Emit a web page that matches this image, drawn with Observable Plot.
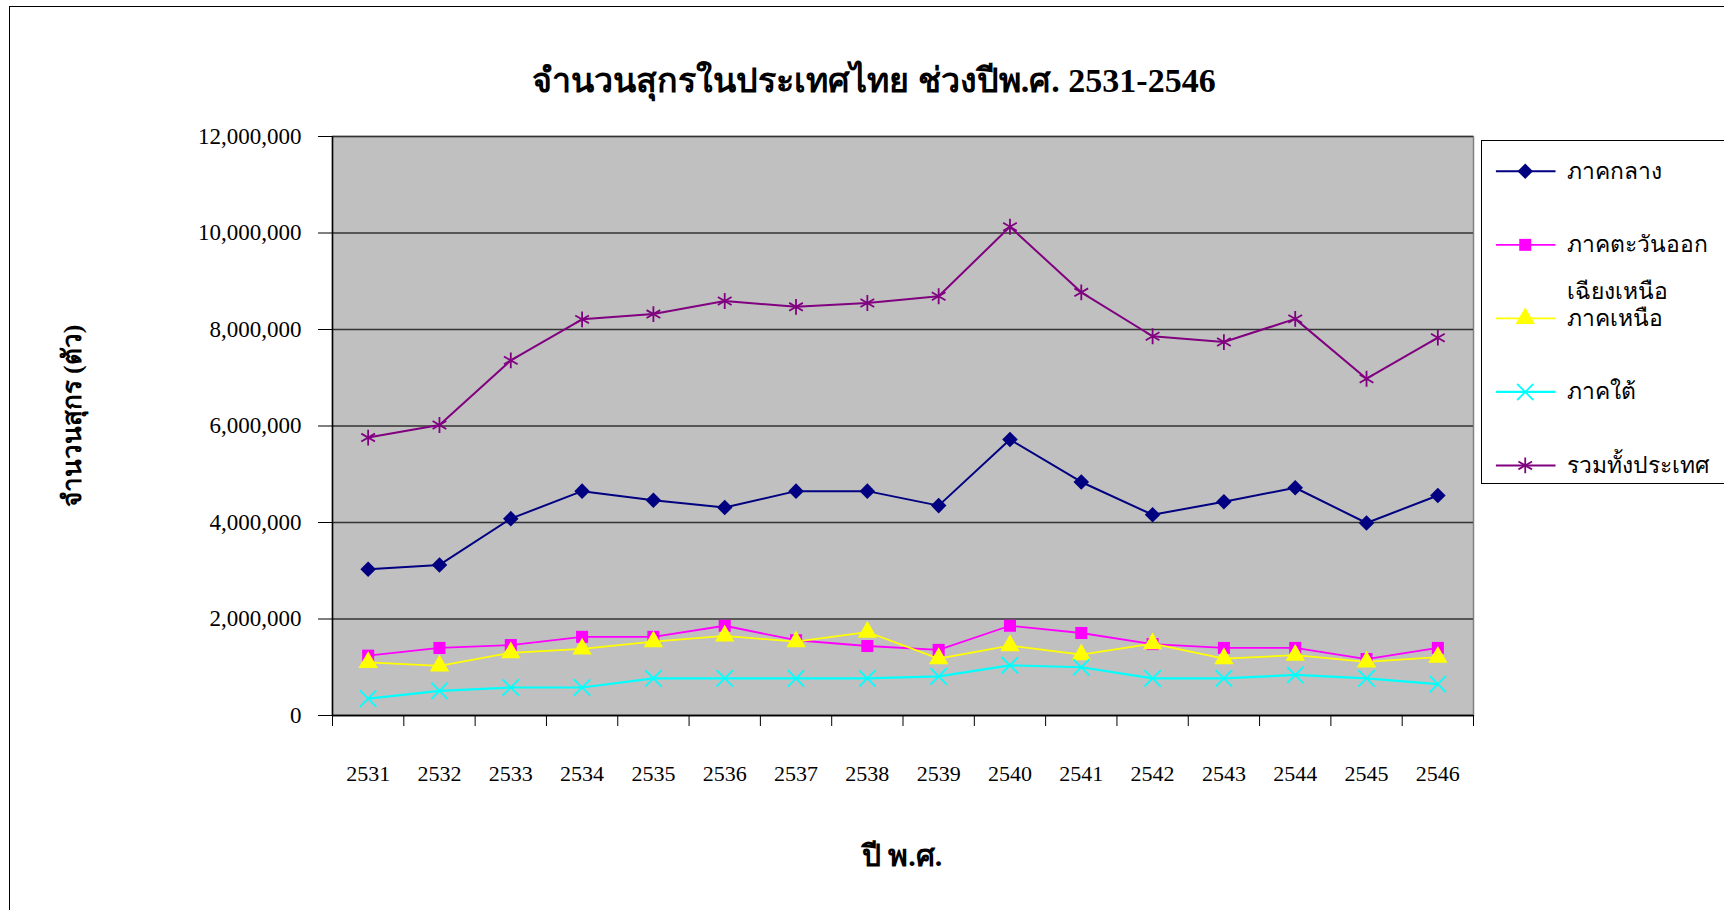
<!DOCTYPE html>
<html>
<head>
<meta charset="utf-8">
<script src="https://cdn.jsdelivr.net/npm/d3@7"></script>
<script src="https://cdn.jsdelivr.net/npm/@observablehq/plot@0.6"></script>
<style>
  html, body { margin: 0; padding: 0; background: #fff; width: 1724px; height: 910px; overflow: hidden; }
  #wrap { position: relative; width: 1724px; height: 910px; }
  #frame { position: absolute; left: 9px; top: 6px; width: 1800px; height: 1000px; border: 1px solid #000; box-sizing: border-box; }
  #chart { position: absolute; left: 0; top: 0; }
  .t { position: absolute; font-family: "Liberation Serif", "Times New Roman", serif; font-weight: bold; color: #000; white-space: nowrap; }
  #title { left: 874px; top: 80px; transform: translate(-50%, -50%); font-size: 34px; }
  #xtitle { left: 902px; top: 855px; transform: translate(-50%, -50%); font-size: 30px; }
  #ytitle { left: 71px; top: 416px; transform: translate(-50%, -50%) rotate(-90deg); font-size: 26px; }
  #legend { position: absolute; left: 1481px; top: 140px; width: 320px; height: 344px; border: 1px solid #000; box-sizing: border-box; background: #fff; }
  #legend svg { position: absolute; left: 0; top: 0; }
</style>
</head>
<body>
<div id="wrap">
  <div id="frame"></div>
  <div id="chart"></div>
  <div id="title" class="t">จำนวนสุกรในประเทศไทย ช่วงปีพ.ศ. 2531-2546</div>
  <div id="xtitle" class="t">ปี พ.ศ.</div>
  <div id="ytitle" class="t">จำนวนสุกร (ตัว)</div>
  <div id="legend"></div>
</div>
<script>
// ---- data ----
const years = [2531, 2532, 2533, 2534, 2535, 2536, 2537, 2538, 2539, 2540, 2541, 2542, 2543, 2544, 2545, 2546];
const central   = [3030000, 3120000, 4080000, 4650000, 4460000, 4310000, 4650000, 4650000, 4350000, 5720000, 4840000, 4160000, 4430000, 4720000, 3990000, 4560000];
const northeast = [1240000, 1400000, 1460000, 1630000, 1630000, 1860000, 1560000, 1440000, 1360000, 1860000, 1710000, 1480000, 1400000, 1400000, 1170000, 1400000];
const north     = [1100000, 1030000, 1300000, 1380000, 1530000, 1650000, 1530000, 1730000, 1180000, 1450000, 1260000, 1490000, 1180000, 1250000, 1110000, 1210000];
const south     = [350000, 510000, 580000, 580000, 770000, 770000, 770000, 770000, 810000, 1040000, 1000000, 770000, 770000, 840000, 770000, 650000];
const total     = [5760000, 6020000, 7360000, 8210000, 8320000, 8590000, 8470000, 8550000, 8690000, 10130000, 8770000, 7860000, 7740000, 8220000, 6980000, 7830000];
const seriesNames = ["ภาคกลาง", "ภาคตะวันออกเฉียงเหนือ", "ภาคเหนือ", "ภาคใต้", "รวมทั้งประเทศ"];
const legendLabels = ["ภาคกลาง", "ภาคตะวันออก\nเฉียงเหนือ", "ภาคเหนือ", "ภาคใต้", "รวมทั้งประเทศ"];
const yTicks = [0, 2000000, 4000000, 6000000, 8000000, 10000000, 12000000];

// ---- styles ----
const styles = [
  {color: "#000080", symbol: "diamond2", fill: "#000080", stroke: "none", r: 7, sw: 2},
  {color: "#FF00FF", symbol: "square", fill: "#FF00FF", stroke: "none", r: 6.8, sw: 1.8},
  {color: "#FFFF00", symbol: "triangle", fill: "#FFFF00", stroke: "none", r: 7.2, sw: 1.8},
  {color: "#00FFFF", symbol: "times", fill: "none", stroke: "#00FFFF", r: 7.5, sw: 2.2},
  {color: "#800080", symbol: "asterisk", fill: "none", stroke: "#800080", r: 7.5, sw: 2}
];
const values = [central, northeast, north, south, total];
const series = seriesNames.map((name, i) => ({
  name, label: legendLabels[i], ...styles[i],
  rows: years.map((year, j) => ({year, value: values[i][j], series: name}))
}));

const boundaries = d3.range(years.length + 1).map(i => years[0] - 0.5 + i);

const dataMarks = [];
for (const s of series) {
  dataMarks.push(Plot.line(s.rows, {x: "year", y: "value", stroke: s.color, strokeWidth: s.sw}));
}
for (const s of series) {
  dataMarks.push(Plot.dot(s.rows, {x: "year", y: "value", symbol: s.symbol, r: s.r, fill: s.fill, stroke: s.stroke, strokeWidth: s.stroke === "none" ? 0 : 1.8}));
}

const chart = Plot.plot({
  width: 1724,
  height: 910,
  marginLeft: 332,
  marginRight: 251,
  marginTop: 136,
  marginBottom: 195,
  style: {fontFamily: "'Liberation Serif', 'Times New Roman', serif", fontSize: "23px", background: "transparent", color: "#000"},
  x: {domain: [boundaries[0], boundaries[boundaries.length - 1]]},
  y: {domain: [0, 12000000]},
  marks: [
    Plot.frame({fill: "#c0c0c0", stroke: "#808080", strokeWidth: 1.5}),
    Plot.gridY({ticks: yTicks, stroke: "#333", strokeOpacity: 1, strokeWidth: 1.3}),
    Plot.axisY({ticks: yTicks, tickSize: 14, tickPadding: 17, tickFormat: d3.format(","), label: null, letterSpacing: "1.3px", fontSize: 23, stroke: "#000"}),
    Plot.axisX({ticks: boundaries, tickSize: 11, tickFormat: () => "", label: null, stroke: "#000"}),
    Plot.axisX({ticks: years, tickSize: 0, tickPadding: 50, tickFormat: d => String(d), label: null, letterSpacing: "2px", fontSize: 22}),
    Plot.ruleX([boundaries[0]], {stroke: "#000", strokeWidth: 1.5}),
    Plot.ruleY([0], {stroke: "#000", strokeWidth: 1.5}),
    ...dataMarks
  ]
});
document.getElementById("chart").appendChild(chart);

// ---- legend ----
const legendMarks = [];
for (const s of series) {
  legendMarks.push(Plot.ruleY([s.name], {y: d => d, x1: 14, x2: 74, stroke: s.color, strokeWidth: s.sw}));
  legendMarks.push(Plot.dot([s.name], {y: d => d, x: 43, symbol: s.symbol, r: s.r, fill: s.fill, stroke: s.stroke, strokeWidth: s.stroke === "none" ? 0 : 1.8}));
}
legendMarks.push(Plot.text(series, {y: "name", x: 85, text: "label", textAnchor: "start", lineAnchor: "top", dy: -26, lineHeight: 2.05, fontSize: 23}));
const legend = Plot.plot({
  width: 320,
  height: 344,
  margin: 0,
  style: {fontFamily: "'Liberation Serif', 'Times New Roman', serif", fontSize: "23px", background: "transparent", color: "#000"},
  x: {type: "identity", axis: null},
  y: {type: "point", domain: seriesNames, range: [29, 326], padding: 0, axis: null},
  marks: legendMarks
});
document.getElementById("legend").appendChild(legend);
</script>
</body>
</html>
